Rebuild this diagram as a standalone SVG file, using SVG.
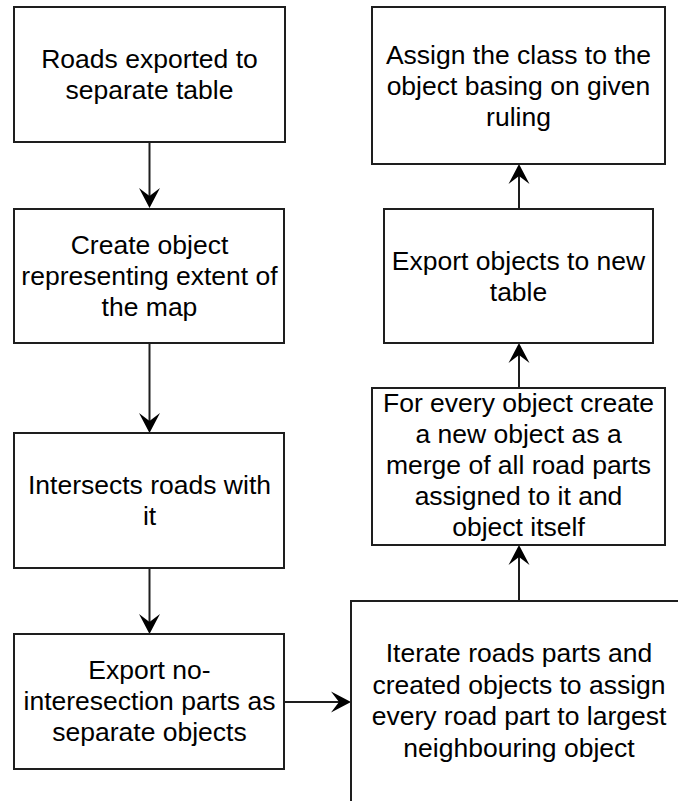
<svg xmlns="http://www.w3.org/2000/svg" width="678" height="801" viewBox="0 0 678 801">
  <style>
    .box { fill: #ffffff; stroke: #1e1e1e; stroke-width: 2; }
    .lbl { font-family: "Liberation Sans", Arial, sans-serif; font-size: 26.5px; fill: #000000; text-anchor: middle; }
    .edge { fill: none; stroke: #1e1e1e; stroke-width: 2; }
  </style>
  <defs>
    <marker id="arrow" markerUnits="userSpaceOnUse" viewBox="-21 -11 22 22" markerWidth="22" markerHeight="22" refX="-12" refY="0" orient="auto">
      <path d="M0,0 L-20,-10.5 L-12,0 L-20,10.5 Z" fill="#000000"/>
    </marker>
  </defs>

  <rect width="678" height="801" fill="#ffffff"/>

  <g id="connectors">
    <line class="edge" x1="149.5" y1="142" x2="149.5" y2="196" marker-end="url(#arrow)"/>
    <line class="edge" x1="149.5" y1="343" x2="149.5" y2="421" marker-end="url(#arrow)"/>
    <line class="edge" x1="149.5" y1="568" x2="149.5" y2="622" marker-end="url(#arrow)"/>
    <line class="edge" x1="284" y1="702" x2="339" y2="702" marker-end="url(#arrow)"/>
    <line class="edge" x1="519" y1="601" x2="519" y2="557" marker-end="url(#arrow)"/>
    <line class="edge" x1="519" y1="388" x2="519" y2="355" marker-end="url(#arrow)"/>
    <line class="edge" x1="519" y1="209" x2="519" y2="176" marker-end="url(#arrow)"/>
  </g>

  <g id="roads-exported">
    <rect class="box" x="14" y="7" width="271" height="135"/>
    <text class="lbl" x="149.5" y="68">Roads exported to</text>
    <text class="lbl" x="149.5" y="99">separate table</text>
  </g>

  <g id="create-extent">
    <rect class="box" x="14" y="209" width="270" height="134"/>
    <text class="lbl" x="149.5" y="254">Create object</text>
    <text class="lbl" x="149.5" y="285">representing extent of</text>
    <text class="lbl" x="149.5" y="316">the map</text>
  </g>

  <g id="intersect-roads">
    <rect class="box" x="14" y="433" width="270" height="135"/>
    <text class="lbl" x="149.5" y="494">Intersects roads with</text>
    <text class="lbl" x="149.5" y="525">it</text>
  </g>

  <g id="export-parts">
    <rect class="box" x="14" y="634" width="270" height="135"/>
    <text class="lbl" x="149.5" y="679">Export no-</text>
    <text class="lbl" x="149.5" y="710">interesection parts as</text>
    <text class="lbl" x="149.5" y="741">separate objects</text>
  </g>

  <g id="iterate-parts">
    <rect class="box" x="351" y="601" width="336" height="203"/>
    <text class="lbl" x="519" y="662">Iterate roads parts and</text>
    <text class="lbl" x="519" y="693.5">created objects to assign</text>
    <text class="lbl" x="519" y="725">every road part to largest</text>
    <text class="lbl" x="519" y="756.5">neighbouring object</text>
  </g>

  <g id="merge-objects">
    <rect class="box" x="372" y="388" width="293" height="157"/>
    <text class="lbl" x="518.5" y="412">For every object create</text>
    <text class="lbl" x="518.5" y="443">a new object as a</text>
    <text class="lbl" x="518.5" y="474">merge of all road parts</text>
    <text class="lbl" x="518.5" y="505">assigned to it and</text>
    <text class="lbl" x="518.5" y="536">object itself</text>
  </g>

  <g id="export-objects">
    <rect class="box" x="384" y="209" width="269" height="134"/>
    <text class="lbl" x="518.5" y="270">Export objects to new</text>
    <text class="lbl" x="518.5" y="301">table</text>
  </g>

  <g id="assign-class">
    <rect class="box" x="372" y="7" width="293" height="157"/>
    <text class="lbl" x="518.5" y="63.5">Assign the class to the</text>
    <text class="lbl" x="518.5" y="94.5">object basing on given</text>
    <text class="lbl" x="518.5" y="125.5">ruling</text>
  </g>
</svg>
